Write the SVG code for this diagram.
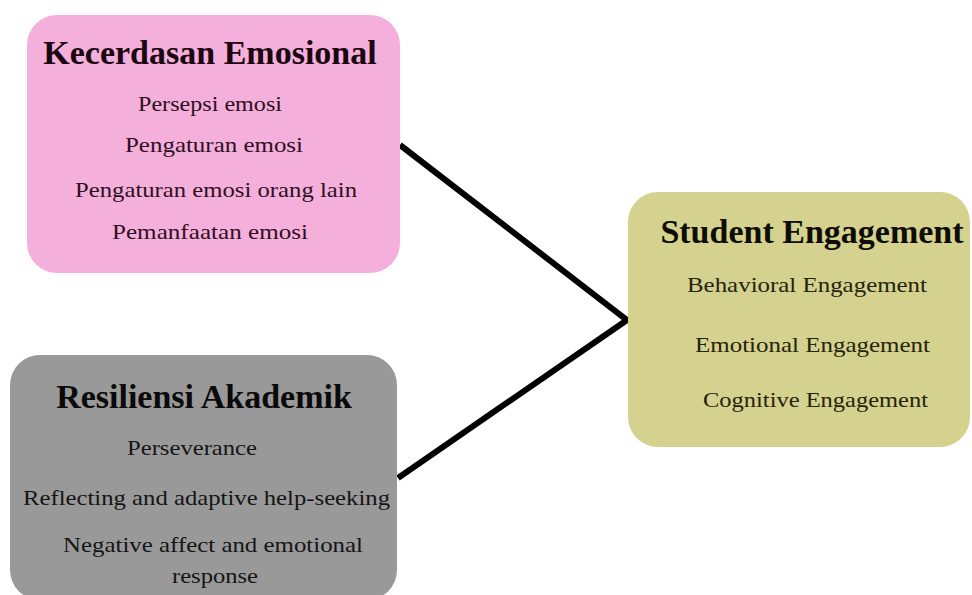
<svg xmlns="http://www.w3.org/2000/svg" width="972" height="595" viewBox="0 0 972 595">
<style>
.title{font-family:"Liberation Serif","Times New Roman",serif;font-weight:bold;font-size:34px;text-anchor:middle;}
.item{font-family:"Liberation Serif","Times New Roman",serif;font-size:22px;text-anchor:middle;}
.conn{fill:none;stroke:#000;stroke-width:6;stroke-linejoin:miter;}
</style>
<rect width="972" height="595" fill="#ffffff"/>
<g id="connectors">
<polyline class="conn" points="400,145 627,320 398,478"/>
</g>
<g id="kecerdasan">
<rect x="27" y="15" width="373" height="258" rx="30" fill="#F4AFDB"/>
<text class="title" x="210" y="64" fill="#1a0710">Kecerdasan Emosional</text>
<g fill="#2e1022">
<text class="item" x="210" y="110.5" textLength="144" lengthAdjust="spacingAndGlyphs">Persepsi emosi</text>
<text class="item" x="214" y="151.5" textLength="178" lengthAdjust="spacingAndGlyphs">Pengaturan emosi</text>
<text class="item" x="216" y="197" textLength="282" lengthAdjust="spacingAndGlyphs">Pengaturan emosi orang lain</text>
<text class="item" x="210" y="239" textLength="196" lengthAdjust="spacingAndGlyphs">Pemanfaatan emosi</text>
</g>
</g>
<g id="resiliensi">
<rect x="10" y="355" width="387" height="245" rx="30" fill="#999999"/>
<text class="title" x="204" y="408" fill="#0a0a0a">Resiliensi Akademik</text>
<g fill="#151515">
<text class="item" x="192" y="455" textLength="130" lengthAdjust="spacingAndGlyphs">Perseverance</text>
<text class="item" x="206.5" y="505" textLength="367" lengthAdjust="spacingAndGlyphs">Reflecting and adaptive help-seeking</text>
<text class="item" x="213" y="552" textLength="300" lengthAdjust="spacingAndGlyphs">Negative affect and emotional</text>
<text class="item" x="215" y="583" textLength="86" lengthAdjust="spacingAndGlyphs">response</text>
</g>
</g>
<g id="student">
<rect x="628" y="192" width="342" height="255" rx="30" fill="#D5D18E"/>
<text class="title" x="812" y="243" fill="#0d0d05">Student Engagement</text>
<g fill="#26240c">
<text class="item" x="807" y="291.5" textLength="240" lengthAdjust="spacingAndGlyphs">Behavioral Engagement</text>
<text class="item" x="812.5" y="351.5" textLength="235" lengthAdjust="spacingAndGlyphs">Emotional Engagement</text>
<text class="item" x="815.5" y="407" textLength="225" lengthAdjust="spacingAndGlyphs">Cognitive Engagement</text>
</g>
</g>
</svg>
